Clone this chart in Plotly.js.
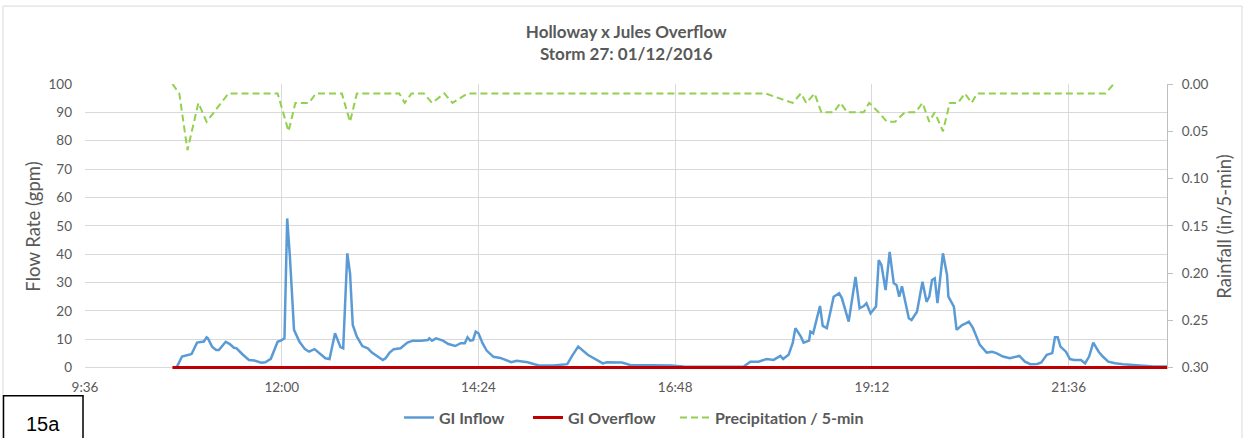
<!DOCTYPE html>
<html>
<head>
<meta charset="utf-8">
<script src="https://cdn.plot.ly/plotly-3.0.1.min.js"></script>
<style>
  html, body { margin: 0; padding: 0; background: #ffffff; }
  #chart { width: 1245px; height: 438px; }
</style>
</head>
<body>
<div id="chart"></div>
<script>
const DAY = '2016-01-12 ';

const inflowTimes = ['10:43','10:47','10:52','10:54','10:58','11:01','11:03','11:05','11:06','11:09','11:12','11:14','11:19','11:22','11:25','11:27','11:31','11:36','11:40','11:45','11:48','11:52','11:57','12:00','12:02','12:04','12:06','12:09','12:13','12:17','12:20','12:24','12:27','12:32','12:35','12:39','12:43','12:45','12:48','12:50','12:52','12:55','12:59','13:03','13:06','13:10','13:14','13:16','13:19','13:22','13:27','13:32','13:36','13:42','13:47','13:48','13:50','13:53','13:58','14:02','14:07','14:11','14:14','14:16','14:18','14:20','14:22','14:24','14:27','14:30','14:35','14:40','14:48','14:52','15:00','15:05','15:09','15:19','15:29','15:33','15:37','15:44','15:50','15:55','15:58','16:03','16:09','16:15','16:23','16:30','16:37','16:45','16:54','17:06','17:19','17:31','17:38','17:43','17:49','17:55','18:00','18:05','18:07','18:11','18:14','18:16','18:20','18:22','18:26','18:27','18:29','18:34','18:36','18:39','18:44','18:48','18:50','18:55','19:00','19:03','19:06','19:08','19:11','19:15','19:17','19:19','19:22','19:25','19:28','19:30','19:32','19:34','19:36','19:39','19:41','19:45','19:49','19:52','19:54','19:56','19:58','20:00','20:04','20:07','20:08','20:12','20:14','20:18','20:20','20:23','20:26','20:31','20:36','20:40','20:43','20:48','20:53','21:00','21:04','21:08','21:13','21:16','21:20','21:24','21:26','21:28','21:30','21:34','21:37','21:40','21:45','21:48','21:51','21:54','21:58','22:01','22:05','22:10','22:16','22:24','22:31','22:38','22:48'];
const inflowValues = [0,3.9,4.5,4.8,8.8,9.1,9.2,10.7,10.3,7.4,6.2,6.2,9.1,8.3,7.0,6.8,4.8,2.7,2.5,1.7,1.9,3.1,9.1,9.7,10.3,52.6,39,13.3,9.1,6.5,5.6,6.5,5.4,3.3,3.0,12.1,7.2,6.8,40.3,33.2,15.0,10.9,7.6,6.8,5.3,3.9,2.7,3.3,5.3,6.5,6.8,8.8,9.5,9.5,9.7,10.3,9.5,10.3,9.5,8.3,7.6,8.6,8.6,10.7,9.5,9.7,12.7,12.1,8.6,6.0,3.8,3.4,1.9,2.4,1.9,1.2,0.7,0.7,1.2,4.5,7.4,4.5,3.0,1.5,1.9,1.9,1.8,0.9,0.9,0.9,0.7,0.7,0.4,0.4,0.4,0.4,0.3,2.1,2.1,3.0,2.7,4.1,3.0,4.5,8.6,13.9,10.9,8.8,9.5,12.7,12.1,21.7,14.7,13.9,25,26.2,24.5,16.2,32.0,20.9,21.7,22.7,19.1,21.5,37.9,36.1,27.3,40.8,29.7,29.1,25,28.7,23.8,17.4,16.8,19.7,30.3,23.2,25,30.9,31.5,22.7,40.3,32.6,25,21.5,13.3,15.0,15.4,16.2,13.9,8.0,5.3,5.6,5.1,3.9,3.3,4.1,2.1,1.2,1.3,1.8,4.5,5.1,10.7,10.7,7.4,5.6,3.0,2.7,2.7,1.5,3.9,8.8,5.6,3.9,2.1,1.5,1.2,0.9,0.7,0.4,0.4];

const overflowTimes = ['10:40','22:48'];
const overflowValues = [0,0];

const precipTimes = ['10:40','10:45','10:51','10:59','11:05','11:21','11:57','12:05','12:10','12:20','12:25','12:44','12:50','12:55','13:26','13:30','13:35','13:44','13:50','13:59','14:05','14:16','17:54','18:14','18:20','18:24','18:30','18:35','18:44','18:49','18:54','19:06','19:10','19:17','19:23','19:29','19:36','19:44','19:49','19:54','19:58','20:04','20:09','20:15','20:20','20:25','20:29','22:03','22:09'];
const precipValues = [0.00,0.01,0.07,0.02,0.04,0.01,0.01,0.05,0.02,0.02,0.01,0.01,0.04,0.01,0.01,0.02,0.01,0.01,0.02,0.01,0.02,0.01,0.01,0.02,0.01,0.02,0.01,0.03,0.03,0.02,0.03,0.03,0.02,0.03,0.04,0.04,0.03,0.03,0.02,0.04,0.03,0.05,0.02,0.02,0.01,0.02,0.01,0.01,0.00];

const toX = arr => arr.map(t => DAY + t);

const grey = '#595959';
const fontFam = 'Lato, "Noto Sans", "Liberation Sans", sans-serif';

// plot area in pixels: left 85, right 1167, top 84, bottom 369.3
const PL = 85, PW = 1082, PB = 369.3, PH = 285.3;
const px = v => (v - PL) / PW;
const py = v => (PB - v) / PH;

const traces = [
  {
    name: 'GI Inflow', x: toX(inflowTimes), y: inflowValues, type: 'scatter', mode: 'lines',
    line: { color: '#5B9BD5', width: 2.5 }, yaxis: 'y', legend: 'legend'
  },
  {
    name: 'GI Overflow', x: toX(overflowTimes), y: overflowValues, type: 'scatter', mode: 'lines',
    line: { color: '#C00000', width: 3 }, yaxis: 'y', legend: 'legend2'
  },
  {
    name: 'Precipitation / 5-min', x: toX(precipTimes), y: precipValues, type: 'scatter', mode: 'lines',
    line: { color: '#92D050', width: 2, dash: '7px,4px' }, yaxis: 'y2', legend: 'legend3'
  }
];

const legendBase = x0 => ({
  orientation: 'h', x: px(x0), xanchor: 'left', y: py(418), yanchor: 'middle',
  bgcolor: 'rgba(0,0,0,0)',
  font: { family: fontFam, size: 16, color: grey, weight: 'bold' }
});

const layout = {
  width: 1245, height: 438,
  paper_bgcolor: '#ffffff', plot_bgcolor: '#ffffff',
  font: { family: fontFam, color: grey, size: 13 },
  margin: { l: 85, r: 78, t: 84, b: 438 - PB, pad: 0, autoexpand: false },
  title: {
    text: '<b>Holloway x Jules Overflow<br>Storm 27: 01/12/2016</b>',
    font: { family: fontFam, size: 17, color: grey },
    x: 0.503, xanchor: 'center', y: 0.914, yanchor: 'middle', yref: 'container'
  },
  showlegend: true,
  legend: legendBase(399),
  legend2: legendBase(528),
  legend3: legendBase(675),
  xaxis: {
    type: 'date',
    range: [DAY + '09:36', DAY + '22:48'],
    tick0: DAY + '09:36', dtick: 144 * 60 * 1000,
    tickformat: '%-H:%M',
    showgrid: true, gridcolor: '#D9D9D9', gridwidth: 1,
    showline: false, zeroline: false, ticks: '',
    tickfont: { size: 13.5, color: grey }, ticklabelstandoff: 8
  },
  yaxis: {
    range: [-0.5, 100], tickvals: [0,10,20,30,40,50,60,70,80,90,100],
    showgrid: true, gridcolor: '#D9D9D9', gridwidth: 1,
    zeroline: false, showline: false, ticks: '',
    tickfont: { size: 13.5, color: grey }, ticklabelstandoff: 12,
    title: { text: 'Flow Rate (gpm)', font: { size: 18.5, color: grey }, standoff: 3 }
  },
  yaxis2: {
    overlaying: 'y', side: 'right',
    range: [0.3015, 0], tickvals: [0, 0.05, 0.10, 0.15, 0.20, 0.25, 0.30], tickformat: '.2f',
    showgrid: false, zeroline: false,
    showline: true, linecolor: '#BFBFBF', linewidth: 1,
    ticks: 'outside', ticklen: 5, tickcolor: '#BFBFBF',
    tickfont: { size: 13.5, color: grey }, ticklabelstandoff: 6,
    title: { text: 'Rainfall (in/5-min)', font: { size: 18.5, color: grey }, standoff: 10 }
  },
  shapes: [
    { type: 'rect', xref: 'paper', yref: 'paper',
      x0: px(3), x1: px(1242), y0: py(470), y1: py(6),
      line: { color: '#D9D9D9', width: 1 }, fillcolor: 'rgba(0,0,0,0)', layer: 'below' },
    { type: 'rect', xref: 'paper', yref: 'paper',
      x0: px(3.5), x1: px(83), y0: py(460), y1: py(396),
      line: { color: '#000000', width: 1.5 }, fillcolor: '#ffffff' }
  ],
  annotations: [
    { text: '15a', xref: 'paper', yref: 'paper',
      x: px(43), y: py(424), xanchor: 'center', yanchor: 'middle',
      showarrow: false, font: { family: '"Liberation Sans", Arial, sans-serif', size: 20, color: '#000000' } }
  ]
};

Plotly.newPlot('chart', traces, layout, { displayModeBar: false, responsive: false });
</script>
</body>
</html>
